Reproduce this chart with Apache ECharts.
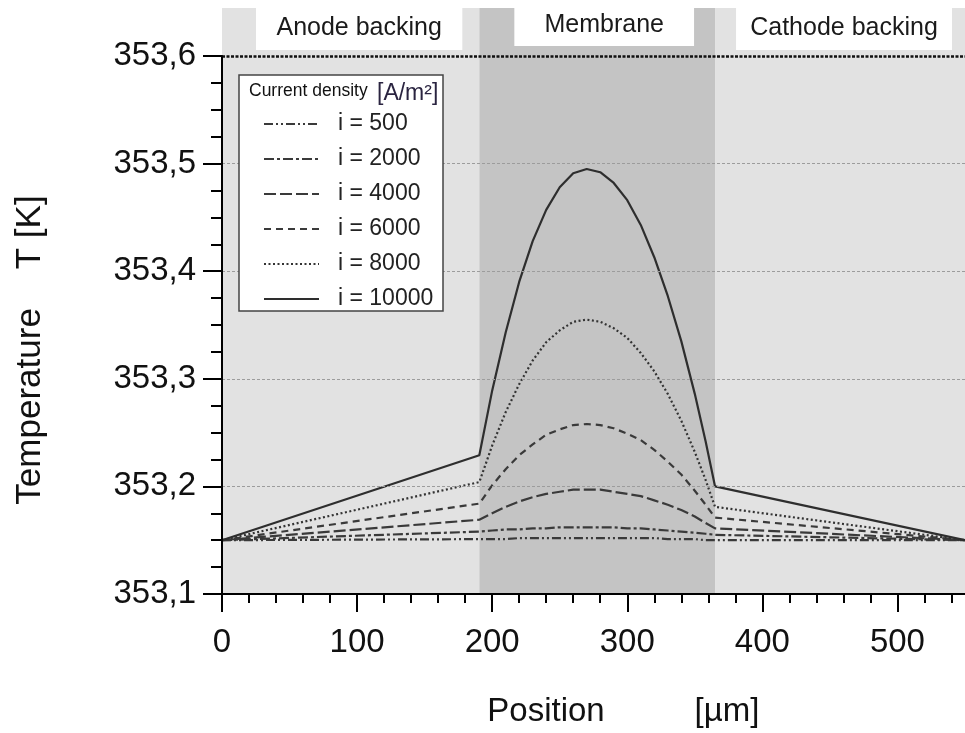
<!DOCTYPE html>
<html><head><meta charset="utf-8">
<script src="https://cdn.jsdelivr.net/npm/echarts@6/dist/echarts.min.js"></script>
<style>html,body{margin:0;padding:0;background:#fff}#c{width:965px;height:733px}</style>
</head><body><div id="c"></div>
<script>
// ---- data ----
const positions = [0,190.5,200,210,220,230,240,250,260,270,280,290,300,310,320,330,340,350,358,365,550];
const names = ['i = 500','i = 2000','i = 4000','i = 6000','i = 8000','i = 10000'];
const t500   = [353.150,353.151,353.151,353.151,353.152,353.152,353.152,353.152,353.152,353.152,353.152,353.152,353.152,353.152,353.152,353.151,353.151,353.151,353.150,353.150,353.150];
const t2000  = [353.150,353.158,353.159,353.160,353.160,353.161,353.161,353.162,353.162,353.162,353.162,353.162,353.161,353.161,353.160,353.159,353.158,353.157,353.156,353.155,353.150];
const t4000  = [353.150,353.169,353.175,353.181,353.186,353.190,353.193,353.195,353.197,353.197,353.197,353.195,353.193,353.191,353.187,353.183,353.178,353.172,353.166,353.161,353.150];
const t6000  = [353.150,353.184,353.201,353.216,353.229,353.239,353.248,353.253,353.257,353.258,353.257,353.254,353.249,353.243,353.234,353.223,353.211,353.196,353.183,353.171,353.150];
const t8000  = [353.150,353.204,353.238,353.269,353.295,353.317,353.334,353.345,353.353,353.355,353.353,353.347,353.338,353.324,353.307,353.286,353.261,353.232,353.206,353.181,353.150];
const t10000 = [353.150,353.229,353.289,353.343,353.390,353.428,353.457,353.478,353.491,353.495,353.492,353.482,353.466,353.443,353.413,353.377,353.335,353.286,353.242,353.200,353.150];
const regionBounds = [0, 190.5, 365, 600];
const regionNames = ['Anode backing', 'Membrane', 'Cathode backing'];
const gridTicks = [353.2, 353.3, 353.4, 353.5];
const topTick = 353.6;

// ---- styles ----
const FONT = 'Arial, "Liberation Sans", Helvetica, sans-serif';
const regionColors = ['#e2e2e2', '#c4c4c4', '#e2e2e2'];
const lineStyles = [
  {color:'#3a3a3a', type:[9,3,2,3,2,3]},
  {color:'#3a3a3a', type:[10,3,3,3]},
  {color:'#3a3a3a', type:[12,4]},
  {color:'#3a3a3a', type:[7,5]},
  {color:'#333333', type:[2,2.5]},
  {color:'#2e2e2e', type:'solid'}
];
const seriesVals = [t500, t2000, t4000, t6000, t8000, t10000];

const chart = echarts.init(document.getElementById('c'), null, {renderer:'canvas'});

const series = seriesVals.map((vals, k) => ({
  name: names[k], type: 'line', symbol: 'none', showSymbol: false,
  data: positions.map((x, j) => [x, vals[j]]),
  lineStyle: {width: 2.2, color: lineStyles[k].color, type: lineStyles[k].type},
  itemStyle: {color: lineStyles[k].color},
  z: 3, animation: false, silent: true
}));

series.unshift({
  name: 'bg', type: 'line', data: [[0, 353.15]], symbol: 'none',
  lineStyle: {opacity: 0}, silent: true, animation: false,
  markArea: {
    silent: true,
    data: regionBounds.slice(0, -1).map((b, k) => [
      {xAxis: b, itemStyle: {color: regionColors[k]}},
      {xAxis: regionBounds[k + 1]}
    ])
  },
  markLine: {
    silent: true, symbol: ['none', 'none'], label: {show: false}, animation: false,
    data: gridTicks.map(v => ({yAxis: v, lineStyle: {color: '#9c9c9c', width: 1, type: [3, 2]}}))
      .concat([{yAxis: topTick, lineStyle: {color: '#111', width: 2.5, type: [3, 1.5]}}])
  }
});

chart.setOption({
  animation: false,
  grid: {left: 222, top: 56, right: -67.5, bottom: 139, containLabel: false, outerBoundsMode: 'none'},
  xAxis: {
    type: 'value', min: 0, max: 600, interval: 100, z: 8,
    axisLine: {show: true, lineStyle: {color: '#000', width: 2}},
    axisTick: {show: true, length: 18, lineStyle: {color: '#000', width: 2}},
    minorTick: {show: true, splitNumber: 5, length: 9, lineStyle: {color: '#000', width: 2}},
    axisLabel: {margin: 32, fontSize: 33, color: '#111', fontFamily: FONT},
    splitLine: {show: false}
  },
  yAxis: {
    type: 'value', min: 353.1, max: 353.6, interval: 0.1, z: 8,
    axisLine: {show: true, lineStyle: {color: '#000', width: 2}},
    axisTick: {show: true, length: 19, lineStyle: {color: '#000', width: 2}},
    minorTick: {show: true, splitNumber: 4, length: 11, lineStyle: {color: '#000', width: 2}},
    axisLabel: {margin: 26, fontSize: 33, color: '#111', fontFamily: FONT,
      formatter: v => v.toFixed(1).replace('.', ',')},
    splitLine: {show: false}
  },
  legend: {
    data: names, orient: 'vertical', left: 258, top: 107, z: 20,
    itemWidth: 55, itemHeight: 12, itemGap: 11, selectedMode: false,
    itemStyle: {opacity: 0, borderWidth: 0},
    textStyle: {fontSize: 23, color: '#222', fontFamily: FONT, lineHeight: 24, padding: [0, 0, 0, 14]}
  },
  series: series
});

// ---- decorations derived from axes ----
const px = v => chart.convertToPixel({gridIndex: 0}, [v, topTick])[0];
const topY = chart.convertToPixel({gridIndex: 0}, [0, topTick])[1];
const headerTop = 8;
const graphics = [];
regionBounds.slice(0, -1).forEach((b, k) => {
  graphics.push({type: 'rect', z: 1, silent: true,
    shape: {x: px(b), y: headerTop, width: px(regionBounds[k + 1]) - px(b), height: topY - headerTop},
    style: {fill: regionColors[k]}});
});
// white label boxes (insets relative to region edges)
const boxInsets = [[34, 17, 50], [35, 21, 46], [21, 0, 50]];
regionBounds.slice(0, -1).forEach((b, k) => {
  const x0 = px(b) + boxInsets[k][0];
  const x1 = k === 2 ? 952 : px(regionBounds[k + 1]) - boxInsets[k][1];
  graphics.push({type: 'rect', z: 2, silent: true,
    shape: {x: x0, y: 0, width: x1 - x0, height: boxInsets[k][2]},
    style: {fill: '#fff'}});
  graphics.push({type: 'text', z: 3, silent: true,
    x: (x0 + x1) / 2, y: k === 1 ? 25 : 28,
    style: {text: regionNames[k], font: '25px ' + FONT, fill: '#1a1a1a',
      textAlign: 'center', textVerticalAlign: 'middle', align: 'center', verticalAlign: 'middle'}});
});
// legend box and title
graphics.push({type: 'rect', z: 10, silent: true,
  shape: {x: 239, y: 75, width: 204, height: 236},
  style: {fill: '#fff', stroke: '#444', lineWidth: 1.5}});
graphics.push({type: 'text', z: 30, silent: true, x: 249, y: 91,
  style: {text: 'Current density', font: '17.5px ' + FONT, fill: '#111',
    textAlign: 'left', textVerticalAlign: 'middle', align: 'left', verticalAlign: 'middle'}});
graphics.push({type: 'text', z: 30, silent: true, x: 377, y: 94,
  style: {text: '[A/m²]', font: '23px ' + FONT, fill: '#2a2440',
    textAlign: 'left', textVerticalAlign: 'middle', align: 'left', verticalAlign: 'middle'}});
// axis titles
graphics.push({type: 'text', z: 30, silent: true, x: 30, y: 350, rotation: Math.PI / 2,
  style: {text: 'Temperature    T [K]', font: '35px ' + FONT, fill: '#111',
    textAlign: 'center', textVerticalAlign: 'middle', align: 'center', verticalAlign: 'middle'}});
graphics.push({type: 'text', z: 30, silent: true, x: 546, y: 712,
  style: {text: 'Position', font: '33px ' + FONT, fill: '#111',
    textAlign: 'center', textVerticalAlign: 'middle', align: 'center', verticalAlign: 'middle'}});
graphics.push({type: 'text', z: 30, silent: true, x: 727, y: 712,
  style: {text: '[µm]', font: '33px ' + FONT, fill: '#111',
    textAlign: 'center', textVerticalAlign: 'middle', align: 'center', verticalAlign: 'middle'}});
chart.setOption({graphic: graphics});
</script></body></html>
